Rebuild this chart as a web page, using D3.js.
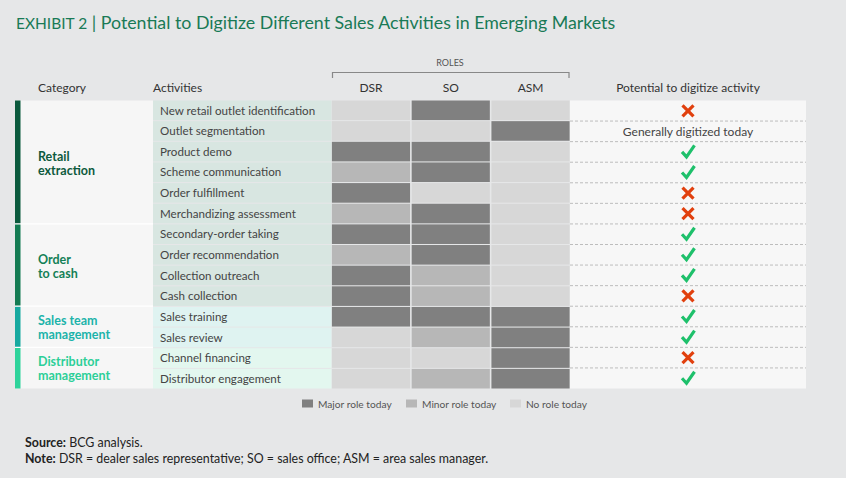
<!DOCTYPE html>
<html><head><meta charset="utf-8">
<script src="https://cdn.jsdelivr.net/npm/d3@7"></script>
<style>
html,body{margin:0;padding:0;background:#e6e7e8;}
svg{display:block;font-family:Lato,"Open Sans",sans-serif;}
</style></head>
<body><svg id="c" width="846" height="478"></svg>
<script>
// ---- data ----
const activities = ["New retail outlet identification","Outlet segmentation","Product demo","Scheme communication","Order fulfillment","Merchandizing assessment","Secondary-order taking","Order recommendation","Collection outreach","Cash collection","Sales training","Sales review","Channel financing","Distributor engagement"];
const activityCategory = ["Retail extraction","Retail extraction","Retail extraction","Retail extraction","Retail extraction","Retail extraction","Order to cash","Order to cash","Order to cash","Order to cash","Sales team management","Sales team management","Distributor management","Distributor management"];
const categories = ["Retail extraction","Order to cash","Sales team management","Distributor management"];
const categoryLines = [["Retail","extraction"],["Order","to cash"],["Sales team","management"],["Distributor","management"]];
const roles = ["DSR","SO","ASM"];
// 2 = major role, 1 = minor role, 0 = no role
const dsr = [0,0,2,1,2,1,2,1,2,2,2,0,0,0];
const so  = [2,0,2,2,0,2,2,2,1,1,2,1,0,1];
const asm = [0,2,0,0,0,0,0,0,0,0,2,2,2,2];
// "yes" = check, "no" = cross, "text" = generally digitized today
const potential = ["no","text","yes","yes","no","no","yes","yes","yes","no","yes","yes","no","yes"];
const legendLabels = ["Major role today","Minor role today","No role today"];

const roleValues = {DSR: dsr, SO: so, ASM: asm};
const roleColor = d3.scaleOrdinal().domain([2,1,0]).range(["#808080","#b7b7b7","#d7d7d7"]);
const catColor = d3.scaleOrdinal().domain(categories).range(["#0b5a3d","#137b52","#17a9a0","#2ed39b"]);
const catText = d3.scaleOrdinal().domain(categories).range(["#0d5a3d","#138056","#1cb3aa","#2ccf98"]);
const actBg = d3.scaleOrdinal().domain(categories).range(["#d8e6e1","#d8e6e1","#dff3f1","#e3f7ef"]);

const svg = d3.select("#c");
const green = "#197a56";

// Title
const t = svg.append("text").attr("x",16).attr("y",29).attr("fill",green).attr("font-size",17.8);
t.append("tspan").attr("font-size",15.5).text("EXHIBIT 2");
t.append("tspan").text(" | Potential to Digitize Different Sales Activities in Emerging Markets");

// scales
const y = d3.scaleBand().domain(activities).range([100.5,388.5]).paddingInner(0.05).paddingOuter(0);
const yFull = d3.scaleBand().domain(activities).range([100.5,388.5]);
const x = d3.scaleBand().domain(roles).range([331.5,570]).paddingInner(0.02).paddingOuter(0.005);

// headers
const hdr = svg.append("g").attr("font-size",12).attr("fill","#333");
hdr.append("text").attr("x",38).attr("y",92).text("Category");
hdr.append("text").attr("x",153).attr("y",92).text("Activities");
roles.forEach(r=>hdr.append("text").attr("x",x(r)+x.bandwidth()/2).attr("y",92).attr("text-anchor","middle").text(r));
hdr.append("text").attr("x",688).attr("y",92).attr("text-anchor","middle").text("Potential to digitize activity");
svg.append("text").attr("x",450).attr("y",66).attr("text-anchor","middle").attr("font-size",9).attr("fill","#555").text("ROLES");
svg.append("path").attr("d",`M${x.range()[0]+1},78V72.5H${x.range()[1]-1}V78`).attr("fill","none").attr("stroke","#888").attr("stroke-width",1.2);

// category panel
const catRows = categories.map(c=>{
  const idx = activities.filter((a,i)=>activityCategory[i]===c);
  return {c, y0: yFull(idx[0]), y1: yFull(idx[idx.length-1])+yFull.bandwidth()};
});
svg.append("rect").attr("x",15).attr("y",100.5).attr("width",138).attr("height",288).attr("fill","#f6f6f6");
catRows.forEach((g,i)=>{
  svg.append("rect").attr("x",15).attr("y",g.y0).attr("width",5.5).attr("height",g.y1-g.y0).attr("fill",catColor(g.c));
  if(i>0) svg.append("line").attr("x1",15).attr("x2",153).attr("y1",g.y0).attr("y2",g.y0).attr("stroke","#fff").attr("stroke-width",1.2);
  const cy = (g.y0+g.y1)/2;
  const tx = svg.append("text").attr("x",38).attr("y",cy-1.5).attr("font-size",12.5).attr("font-weight","bold").attr("fill",catText(g.c));
  categoryLines[i].forEach((l,k)=>tx.append("tspan").attr("x",38).attr("dy",k===0?0:14).text(l));
});

// activities column
svg.selectAll(".act").data(activities).join("rect")
  .attr("x",153).attr("y",d=>y(d)).attr("width",178.5).attr("height",y.bandwidth())
  .attr("fill",(d,i)=>actBg(activityCategory[i]));
svg.selectAll(".actl").data(activities).join("text")
  .attr("x",160).attr("y",d=>y(d)+y.bandwidth()/2+4.2).attr("font-size",11.6).attr("fill","#444").text(d=>d);

// role cells
roles.forEach(r=>{
  svg.selectAll(null).data(activities).join("rect")
    .attr("x",x(r)).attr("y",d=>y(d)).attr("width",x.bandwidth()).attr("height",y.bandwidth())
    .attr("fill",(d,i)=>roleColor(roleValues[r][i]));
});

// potential column
svg.append("rect").attr("x",570).attr("y",100.5).attr("width",236).attr("height",288).attr("fill","#f7f7f7");
activities.slice(1).forEach(a=>{
  svg.append("line").attr("x1",570).attr("x2",806).attr("y1",yFull(a)).attr("y2",yFull(a))
    .attr("stroke","#bdbdbd").attr("stroke-width",1).attr("stroke-dasharray","3,2");
});
const cx = 688;
activities.forEach((a,i)=>{
  const cy = yFull(a)+yFull.bandwidth()/2;
  const p = potential[i];
  if(p==="no"){
    svg.append("path").attr("d",`M${cx-5.5},${cy-5.5}L${cx+5.5},${cy+5.5}M${cx+5.5},${cy-5.5}L${cx-5.5},${cy+5.5}`)
      .attr("stroke","#e1400e").attr("stroke-width",3.2).attr("fill","none");
  } else if(p==="yes"){
    svg.append("path").attr("d",`M${cx-6},${cy}L${cx-1.5},${cy+5}L${cx+6.5},${cy-6.5}`)
      .attr("stroke","#1ec06b").attr("stroke-width",3.2).attr("fill","none").attr("stroke-linecap","butt");
  } else {
    svg.append("text").attr("x",cx).attr("y",cy+4.2).attr("text-anchor","middle").attr("font-size",12).attr("fill","#444").text("Generally digitized today");
  }
});

// legend
const lx = [302,406,510];
legendLabels.forEach((l,i)=>{
  svg.append("rect").attr("x",lx[i]).attr("y",399.5).attr("width",11).attr("height",8).attr("fill",roleColor(2-i));
  svg.append("text").attr("x",lx[i]+16).attr("y",408).attr("font-size",10.2).attr("fill","#555").text(l);
});

// footer
const f1 = svg.append("text").attr("x",25).attr("y",447).attr("font-size",12.4).attr("fill","#222");
f1.append("tspan").attr("font-weight","bold").text("Source:");
f1.append("tspan").text(" BCG analysis.");
const f2 = svg.append("text").attr("x",25).attr("y",463).attr("font-size",12.4).attr("fill","#222");
f2.append("tspan").attr("font-weight","bold").text("Note:");
f2.append("tspan").text(" DSR = dealer sales representative; SO = sales office; ASM = area sales manager.");
</script></body></html>
